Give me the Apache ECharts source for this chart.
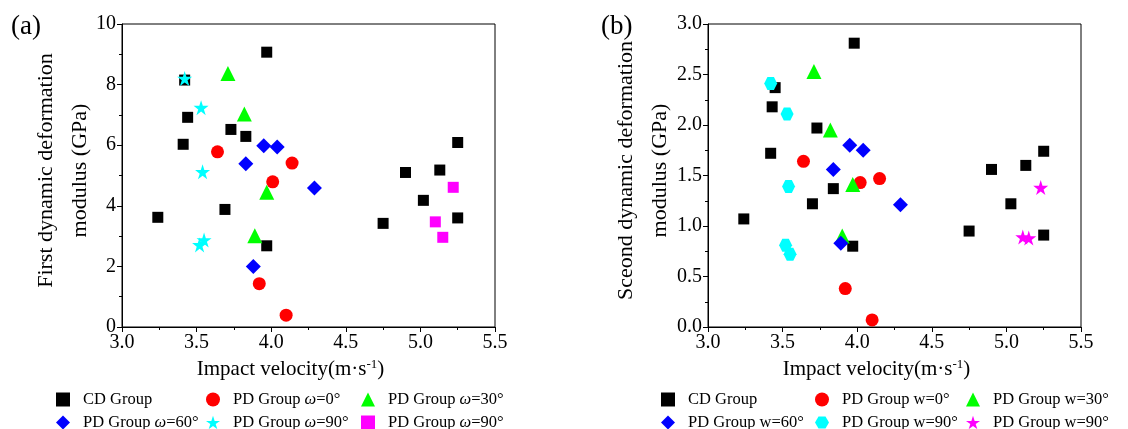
<!DOCTYPE html>
<html>
<head>
<meta charset="utf-8">
<script src="https://cdn.jsdelivr.net/npm/echarts@6/dist/echarts.min.js"></script>
<style>
  html, body { margin: 0; padding: 0; background: #fff; }
  #main { width: 1128px; height: 429px; }
</style>
</head>
<body>
<div id="main"></div>
<script>
const FONT = "Liberation Serif";

// (a) 第一动态变形模量
const cdVelA = [3.97, 3.42, 3.44, 3.73, 3.83, 3.41, 3.69, 3.24, 3.97, 5.25, 4.90, 5.13, 5.02, 4.75, 5.25];
const cdModA = [9.07, 8.15, 6.92, 6.52, 6.29, 6.03, 3.88, 3.62, 2.68, 6.09, 5.10, 5.18, 4.18, 3.42, 3.60];
const w0VelA = [3.64, 4.14, 4.01, 3.92, 4.10];
const w0ModA = [5.78, 5.41, 4.79, 1.43, 0.39];
const w30VelA = [3.71, 3.82, 3.97, 3.89];
const w30ModA = [8.37, 7.03, 4.45, 3.01];
const w60VelA = [3.95, 4.04, 3.83, 4.29, 3.88];
const w60ModA = [5.98, 5.94, 5.39, 4.59, 2.00];
const w90VelA = [3.42, 3.53, 3.54, 3.55, 3.52];
const w90ModA = [8.20, 7.24, 5.12, 2.87, 2.71];
const w90bVelA = [5.22, 5.10, 5.15];
const w90bModA = [4.61, 3.47, 2.96];

// (b) 第二动态变形模量
const cdVelB = [3.98, 3.45, 3.43, 3.73, 3.42, 3.84, 3.70, 3.24, 3.97, 5.25, 4.90, 5.13, 5.03, 4.75, 5.25];
const cdModB = [2.81, 2.37, 2.18, 1.97, 1.72, 1.37, 1.22, 1.07, 0.80, 1.74, 1.56, 1.60, 1.22, 0.95, 0.91];
const w0VelB = [3.64, 4.15, 4.02, 3.92, 4.10];
const w0ModB = [1.64, 1.47, 1.43, 0.38, 0.07];
const w30VelB = [3.71, 3.82, 3.97, 3.90];
const w30ModB = [2.53, 1.95, 1.41, 0.90];
const w60VelB = [3.95, 4.04, 3.84, 4.29, 3.89];
const w60ModB = [1.80, 1.75, 1.56, 1.21, 0.83];
const w90VelB = [3.42, 3.53, 3.54, 3.52, 3.55];
const w90ModB = [2.41, 2.11, 1.39, 0.81, 0.72];
const w90bVelB = [5.23, 5.11, 5.15];
const w90bModB = [1.38, 0.89, 0.88];

// 图例名称 (末尾空格用于区分同名图例)
const namesA = ["CD Group", "PD Group ω=0°", "PD Group ω=30°", "PD Group ω=60°", "PD Group ω=90°", "PD Group ω=90° "];
const namesB = ["CD Group", "PD Group w=0°", "PD Group w=30°", "PD Group w=60°", "PD Group w=90°", "PD Group w=90° "];

const STAR = "path://M100,0 L122.45,69.1 L195.1,69.1 L136.33,111.8 L158.8,180.9 L100,138.2 L41.2,180.9 L63.67,111.8 L4.9,69.1 L77.55,69.1 Z";
const HEX = "path://M50,0 L150,0 L200,86.6 L150,173.2 L50,173.2 L0,86.6 Z";

const zip = (xs, ys) => xs.map((x, i) => [x, ys[i]]);

function scatter(name, idx, xs, ys, symbol, size, color) {
  return {
    name: name,
    type: "scatter",
    xAxisIndex: idx,
    yAxisIndex: idx,
    symbol: symbol,
    symbolSize: size,
    itemStyle: { color: color, opacity: 1 },
    emphasis: { disabled: true },
    data: zip(xs, ys)
  };
}

function xAxis(idx) {
  return {
    type: "value",
    gridIndex: idx,
    min: 3,
    max: 5.5,
    interval: 0.5,
    splitLine: { show: false },
    axisLine: { onZero: false, lineStyle: { color: "#000", width: 1 } },
    axisTick: { length: 5, lineStyle: { color: "#000" } },
    minorTick: { show: true, splitNumber: 2, length: 3, lineStyle: { color: "#000" } },
    axisLabel: { fontFamily: FONT, fontSize: 20, color: "#000", margin: 6, formatter: v => v.toFixed(1) },
    name: "Impact velocity(m·s{sup|-1})",
    nameLocation: "middle",
    nameGap: 29,
    nameTextStyle: {
      fontFamily: FONT, fontSize: 21, color: "#000", padding: [0, 36, 0, 0],
      rich: { sup: { fontFamily: FONT, fontSize: 13, color: "#000", verticalAlign: "top", padding: [0, 0, 10, 0] } }
    }
  };
}

function yAxis(idx, max, interval, name, gap, fmt) {
  return {
    type: "value",
    gridIndex: idx,
    min: 0,
    max: max,
    interval: interval,
    splitLine: { show: false },
    axisLine: { onZero: false, lineStyle: { color: "#000", width: 1 } },
    axisTick: { length: 5, lineStyle: { color: "#000" } },
    minorTick: { show: true, splitNumber: 2, length: 3, lineStyle: { color: "#000" } },
    axisLabel: { fontFamily: FONT, fontSize: 20, color: "#000", margin: 6, formatter: fmt },
    name: name,
    nameLocation: "middle",
    nameGap: gap,
    nameMoveOverlap: false,
    nameTextStyle: { fontFamily: FONT, fontSize: 22, color: "#000", lineHeight: 34, padding: [0, 0, 0, 10] }
  };
}

// 每个图例单独放置
const legendCols = [
  [56, 206, 361],
  [661, 815, 966]
];
const legendRows = [391, 414];

function legends(names, col) {
  return names.map((n, i) => ({
    data: [n],
    left: legendCols[col][i % 3],
    top: legendRows[Math.floor(i / 3)],
    itemWidth: 14,
    itemHeight: 14,
    padding: 0,
    selectedMode: false,
    formatter: name => name.replace("ω", "{i|ω}"),
    textStyle: {
      fontFamily: FONT, fontSize: 16.5, color: "#000", padding: [0, 0, 0, 8],
      rich: { i: { fontFamily: FONT, fontSize: 16.5, fontStyle: "italic", color: "#000" } }
    }
  }));
}

const chart = echarts.init(document.getElementById("main"), null, { renderer: "canvas" });

const option = {
  animation: false,
  backgroundColor: "#fff",
  title: [
    { text: "(a)", left: 6, top: 8, textStyle: { fontFamily: FONT, fontSize: 27, fontWeight: "normal", color: "#000" } },
    { text: "(b)", left: 596, top: 8, textStyle: { fontFamily: FONT, fontSize: 27, fontWeight: "normal", color: "#000" } }
  ],
  grid: [
    { left: 122, top: 24, width: 373, height: 303, show: true, borderColor: "#000", borderWidth: 1 },
    { left: 708, top: 24, width: 373, height: 303, show: true, borderColor: "#000", borderWidth: 1 }
  ],
  xAxis: [xAxis(0), xAxis(1)],
  yAxis: [
    yAxis(0, 10, 2, "First dynamic deformation\nmodulus (GPa)", 25, v => String(v)),
    yAxis(1, 3, 0.5, "Sceond dynamic deformation\nmodulus (GPa)", 31, v => v.toFixed(1))
  ],
  legend: legends(namesA, 0).concat(legends(namesB, 1)),
  series: [
    scatter(namesA[0], 0, cdVelA, cdModA, "rect", 11, "#000000"),
    scatter(namesA[1], 0, w0VelA, w0ModA, "circle", 13, "#ff0000"),
    scatter(namesA[2], 0, w30VelA, w30ModA, "triangle", 15, "#00ff00"),
    scatter(namesA[3], 0, w60VelA, w60ModA, "diamond", 15, "#0000ff"),
    scatter(namesA[4], 0, w90VelA, w90ModA, STAR, 15, "#00ffff"),
    scatter(namesA[5], 0, w90bVelA, w90bModA, "rect", 11, "#ff00ff"),

    scatter(namesB[0], 1, cdVelB, cdModB, "rect", 11, "#000000"),
    scatter(namesB[1], 1, w0VelB, w0ModB, "circle", 13, "#ff0000"),
    scatter(namesB[2], 1, w30VelB, w30ModB, "triangle", 15, "#00ff00"),
    scatter(namesB[3], 1, w60VelB, w60ModB, "diamond", 15, "#0000ff"),
    scatter(namesB[4], 1, w90VelB, w90ModB, HEX, 13, "#00ffff"),
    scatter(namesB[5], 1, w90bVelB, w90bModB, STAR, 15, "#ff00ff")
  ]
};

chart.setOption(option);
</script>
</body>
</html>
